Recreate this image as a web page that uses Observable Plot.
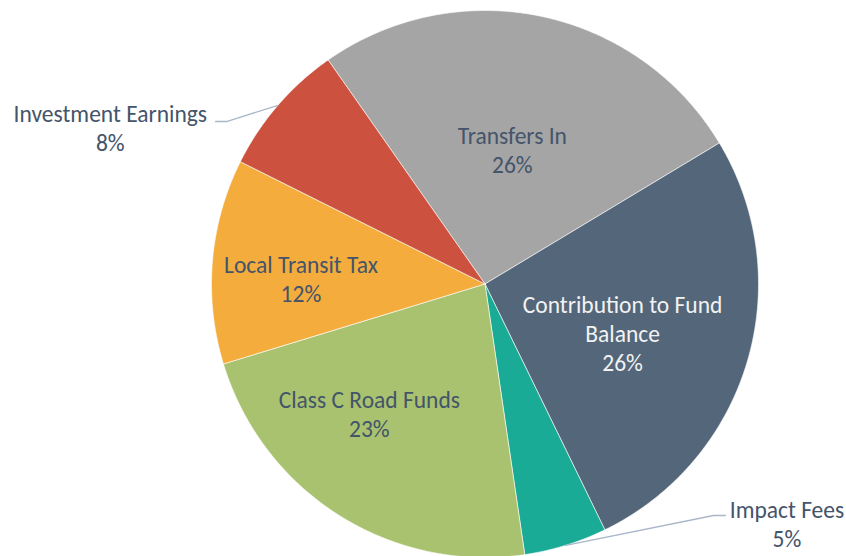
<!DOCTYPE html>
<html>
<head>
<meta charset="utf-8">
<script src="https://cdn.jsdelivr.net/npm/d3@7"></script>
<script src="https://cdn.jsdelivr.net/npm/@observablehq/plot@0.6"></script>
<style>
  html, body { margin: 0; padding: 0; background: #ffffff; }
  #chart { width: 846px; height: 556px; overflow: hidden; }
</style>
</head>
<body>
<div id="chart"></div>
<script>
// ---- Data ----
const categories = ["Transfers In", "Contribution to Fund Balance", "Impact Fees", "Class C Road Funds", "Local Transit Tax", "Investment Earnings"];
const shares = [26.1, 26.4, 4.9, 22.6, 12.1, 7.9];
const labelNames = ["Transfers In", "Contribution to Fund\nBalance", "Impact Fees", "Class C Road Funds", "Local Transit Tax", "Investment Earnings"];
const colors = ["#A5A5A5", "#546679", "#1AAB97", "#A9C26F", "#F4AD3D", "#CC513F"];

// ---- Layout (not data) ----
const startDeg = -35;            // angle of first slice, clockwise from 12 o'clock
const textDark = "#44546A";
const textLight = "#F2F2F2";
// label block centres in pie-radius units (centre = 0,0, y up)
const labelPos = {
  "Transfers In": [0.100, 0.492],
  "Contribution to Fund Balance": [0.503, -0.178],
  "Impact Fees": [1.104, -0.876],
  "Class C Road Funds": [-0.423, -0.473],
  "Local Transit Tax": [-0.673, 0.021],
  "Investment Earnings": [-1.370, 0.572]
};
const leaderStart = {
  "Investment Earnings": [[-0.9854, 0.5941], [-0.9452, 0.5941]],
  "Impact Fees": [[0.8793, -0.8464], [0.8355, -0.8464]]
};

// ---- Geometry derived from the values ----
const total = d3.sum(shares);
let cum = 0;
const slices = categories.map((name, i) => {
  const a0 = startDeg + cum / total * 360;
  cum += shares[i];
  const a1 = startDeg + cum / total * 360;
  return {name, value: shares[i], a0, a1, mid: (a0 + a1) / 2, label: labelNames[i]};
});
const rad = d => d * Math.PI / 180;
const polyPts = [];
for (const s of slices) {
  polyPts.push({name: s.name, x: 0, y: 0});
  const n = Math.max(2, Math.ceil((s.a1 - s.a0) / 0.25));
  for (let k = 0; k <= n; k++) {
    const a = rad(s.a0 + (s.a1 - s.a0) * k / n);
    polyPts.push({name: s.name, x: Math.sin(a), y: Math.cos(a)});
  }
  polyPts.push({name: s.name, x: 0, y: 0});
}
const labels = slices.map(s => ({
  name: s.name,
  x: labelPos[s.name][0],
  y: labelPos[s.name][1],
  text: s.label + "\n" + Math.round(s.value) + "%",
  light: s.name === "Contribution to Fund Balance"
}));
const leaderPts = [];
for (const s of slices) {
  if (!leaderStart[s.name]) continue;
  for (const p of leaderStart[s.name]) leaderPts.push({name: s.name, x: p[0], y: p[1]});
  leaderPts.push({name: s.name, x: Math.sin(rad(s.mid)), y: Math.cos(rad(s.mid))});
}

const W = 846, H = 556, cx = 484.5, cy = 283.5, R = 273.5;
const font = "Calibri, Carlito, Lato, sans-serif";
const fs = 23.5, lh = 29 / 23.5;

const chart = Plot.plot({
  width: W,
  height: H,
  margin: 0,
  x: {domain: [-cx / R, (W - cx) / R], axis: null},
  y: {domain: [-(H - cy) / R, cy / R], axis: null},
  color: {domain: categories, range: colors},
  style: {background: "#ffffff", fontFamily: font},
  marks: [
    Plot.line(polyPts, {x: "x", y: "y", z: "name", fill: "name", stroke: "#ffffff", strokeWidth: 0.6, strokeLinejoin: "round"}),
    Plot.line(leaderPts, {x: "x", y: "y", z: "name", stroke: "#A9B7C9", strokeWidth: 1.3}),
    Plot.text(labels.filter(d => !d.light), {x: "x", y: "y", text: "text", fill: textDark, fontSize: fs, lineHeight: lh, fontFamily: font}),
    Plot.text(labels.filter(d => d.light), {x: "x", y: "y", text: "text", fill: textLight, fontSize: fs, lineHeight: lh, fontFamily: font})
  ]
});
document.getElementById("chart").appendChild(chart);
</script>
</body>
</html>
